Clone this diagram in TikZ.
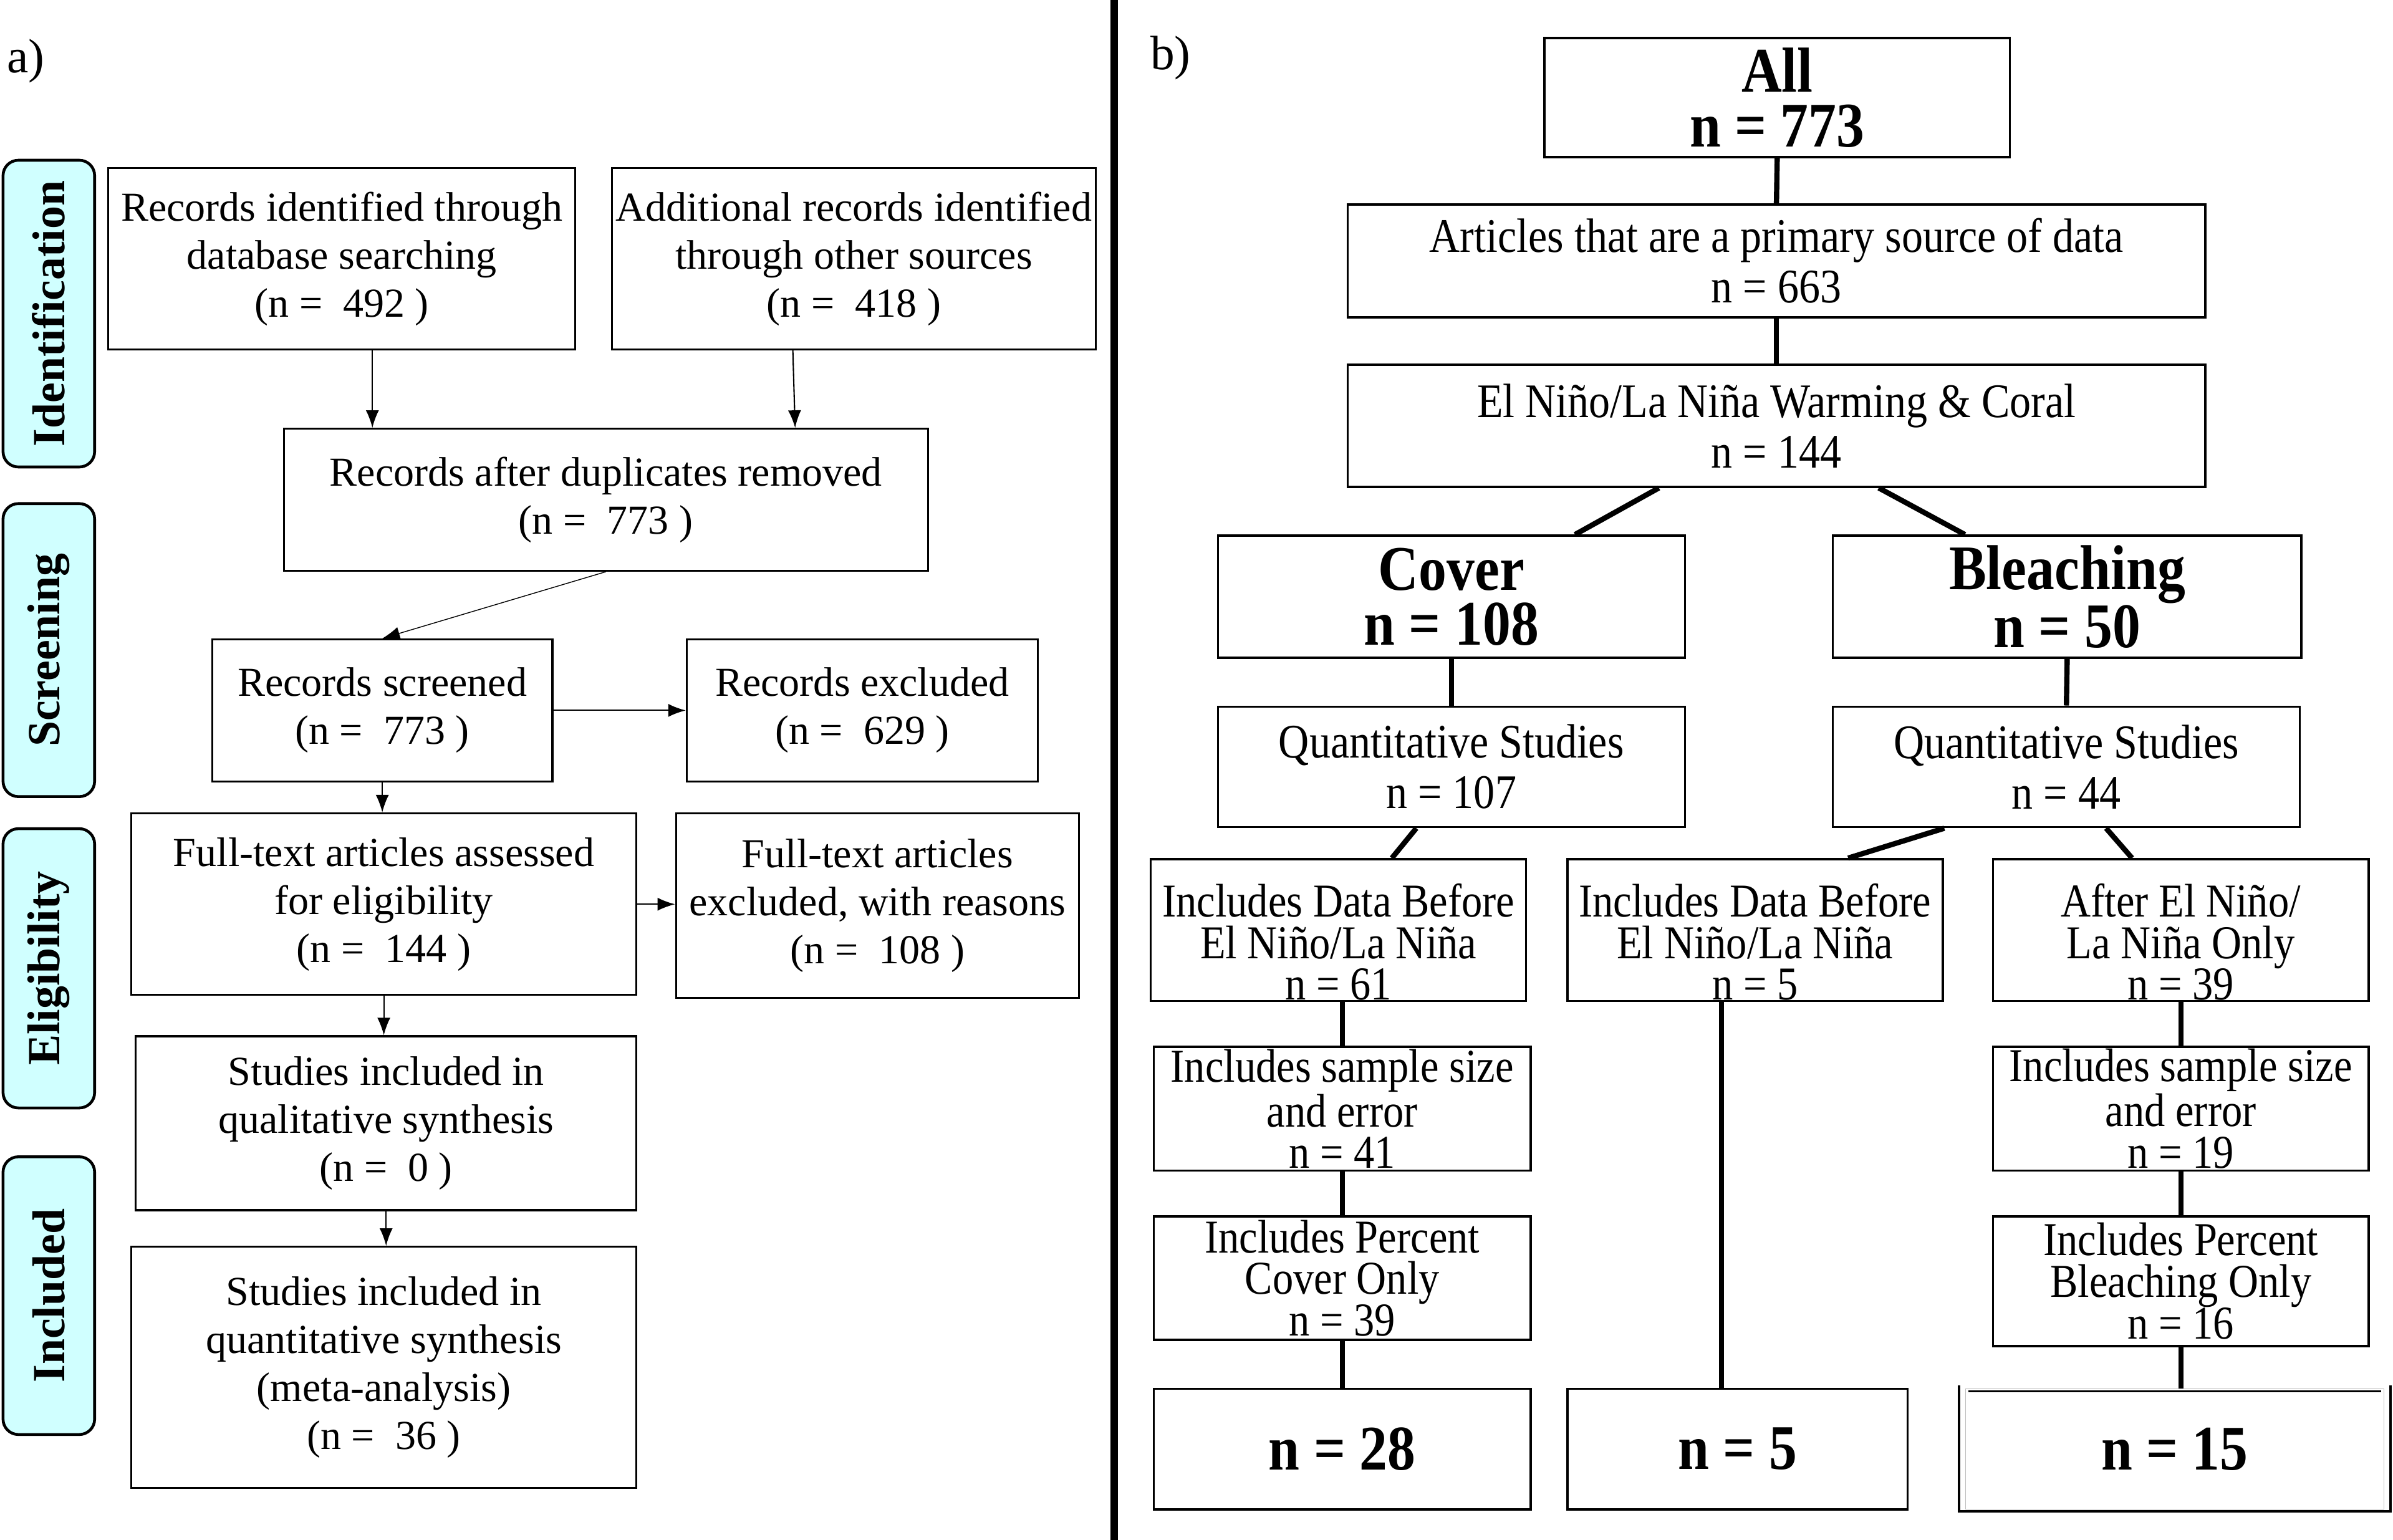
\documentclass[tikz,border=0pt]{standalone}
\usepackage{fontspec}
\setmainfont{Liberation Serif}
\newfontfamily\cond[FakeStretch=0.88]{Liberation Serif}
\usepackage{xcolor}
\usepackage{tikz}
\usetikzlibrary{arrows.meta}
\definecolor{phasecyan}{RGB}{208,255,255}
\newcommand{\px}{0.02448cm}
\newcommand{\lowstrut}{\rule{0pt}{26pt}}
\tikzset{sz/.style 2 args={minimum width=#1*\px, minimum height=#2*\px},
    box/.style={draw, line width=0.9pt, inner sep=0pt, align=center,
        font=\fontsize{18.8}{21.9}\selectfont},
    phase/.style={draw, line width=1.3pt, rounded corners=7pt, fill=phasecyan,
        rotate=90, inner sep=0pt, font=\fontsize{21}{24}\selectfont\bfseries},
    arr/.style={-{Latex[length=8pt,width=6pt]}, line width=0.6pt},
    rbox/.style={draw, line width=1pt, inner sep=0pt, align=center,
        font=\cond\fontsize{22}{23}\selectfont},
    rtight/.style={rbox, font=\cond\fontsize{21.5}{19}\selectfont},
    rbig/.style={rbox, font=\cond\fontsize{29}{25}\selectfont\bfseries},
    link/.style={line width=2.4pt},
    panel/.style={font=\fontsize{22}{24}\selectfont}}

\begin{document}
\begin{tikzpicture}[x=\px, y=-\px]
            \useasboundingbox (0,0) rectangle (1568,1009);
            \node[panel] (pa) at (17,40) {a)};
            \node[panel] (pb) at (767,38) {b)};
            \draw[line width=3.6pt] (730,0) -- (730,1009);

            \node[phase, sz={201}{60}] (ident) at (32,205.5) {Identification};
            \node[phase, sz={192}{60}] (scrn) at (32,426) {Screening};
            \node[phase, sz={183}{60}] (elig) at (32,634.5) {Eligibility};
            \node[phase, sz={182}{60}] (incl) at (32,849) {Included};

            \node[box, sz={306}{119}] (db) at (224,169.5) {Records identified through\\database searching\\(n =\ \ 492 )};
            \node[box, sz={317}{119}] (other) at (559.5,169.5) {Additional records identified\\through other sources\\(n =\ \ 418 )};
            \node[box, sz={422}{93}] (dup) at (397,327.5) {Records after duplicates removed\\(n =\ \ 773 )};
            \node[box, sz={223}{93}] (scr) at (250.5,465.5) {Records screened\\(n =\ \ 773 )};
            \node[box, sz={230}{93}] (exc) at (565,465.5) {Records excluded\\(n =\ \ 629 )};
            \node[box, sz={331}{119}] (ft) at (251.5,592.5) {Full-text articles assessed\\for eligibility\\(n =\ \ 144 )};
            \node[box, sz={264}{121}] (ftx) at (575,593.5) {Full-text articles\\excluded, with reasons\\(n =\ \ 108 )};
            \node[box, sz={328}{114}] (qual) at (253,736) {Studies included in\\qualitative synthesis\\(n =\ \ 0 )};
            \node[box, sz={331}{158}] (quant) at (251.5,896) {Studies included in\\quantitative synthesis\\(meta-analysis)\\(n =\ \ 36 )};

            \draw[arr] ([xshift=20*\px]db.south) -- ([xshift=20*\px]db.south |- dup.north);
            \draw[arr] ([xshift=-40*\px]other.south) -- ([xshift=124*\px]dup.north);
            \draw[arr, line width=0.4pt] (dup.south) -- (scr.north);
            \draw[arr] (scr.east) -- (exc.west);
            \draw[arr] (scr.south) -- (scr.south |- ft.north);
            \draw[arr] (ft.east) -- (ft.east -| ftx.west);
            \draw[arr] (ft.south) -- (ft.south |- qual.north);
            \draw[arr] (qual.south) -- (qual.south |- quant.north);

            \node[rbig, sz={305}{78}] (all) at (1164.5,64) {All\\n = 773};
            \node[rbox, sz={562}{74}] (prim) at (1164,171) {Articles that are a primary source of data\\n = 663};
            \node[rbox, sz={562}{80}] (eln) at (1164,279) {El Niño/La Niña Warming \& Coral\\n = 144};
            \node[rbig, sz={306}{80}] (cov) at (951,391) {Cover\\n = 108};
            \node[rbig, sz={307}{80}] (ble) at (1354.5,391) {Bleaching\\n = 50};
            \node[rbox, sz={306}{79}] (qc) at (951,502.5) {Quantitative Studies\\n = 107};
            \node[rbox, sz={306}{79}] (qb) at (1354,502.5) {Quantitative Studies\\n = 44};
            \node[rtight, sz={246}{93}] (c1) at (877,609.5) {\lowstrut Includes Data Before\\El Niño/La Niña\\n = 61};
            \node[rtight, sz={246}{93}] (m1) at (1150,609.5) {\lowstrut Includes Data Before\\El Niño/La Niña\\n = 5};
            \node[rtight, sz={246}{93}] (b1) at (1429,609.5) {\lowstrut After El Niño/\\La Niña Only\\n = 39};
            \node[rtight, sz={247}{81}] (c2) at (879.5,726.5) {Includes sample size\\and error\\n = 41};
            \node[rtight, sz={246}{81}] (b2) at (1429,726.5) {Includes sample size\\and error\\n = 19};
            \node[rtight, sz={247}{81}] (c3) at (879.5,837.5) {Includes Percent\\Cover Only\\n = 39};
            \node[rtight, sz={246}{85}] (b3) at (1429,839.5) {Includes Percent\\Bleaching Only\\n = 16};
            \node[rbig, sz={247}{79}] (c4) at (879.5,949.5) {n = 28};
            \node[rbig, sz={223}{79}] (m4) at (1138.5,949.5) {n = 5};
            \node[rbig, sz={274}{79}, draw=gray!50, line width=0.4pt] (b4) at (1425,949.5) {n = 15};
            \draw[line width=1pt] ([shift={(2,2)}]b4.north west) -- ([shift={(-2,2)}]b4.north east);
            \draw[line width=1pt] ([shift={(-4,-2)}]b4.north west) -- ([shift={(-4,1)}]b4.south west)
                -- ([shift={(4,1)}]b4.south east) -- ([shift={(4,-2)}]b4.north east);

            \draw[link] (all.south) -- (prim.north);
            \draw[link] (prim.south) -- (eln.north);
            \draw[link] ([xshift=-77*\px]eln.south) -- ([xshift=81*\px]cov.north);
            \draw[link] ([xshift=67*\px]eln.south) -- ([xshift=-67*\px]ble.north);
            \draw[link] (cov.south) -- (qc.north);
            \draw[link] (ble.south) -- (qb.north);
            \draw[link] ([xshift=-23*\px]qc.south) -- ([xshift=35*\px]c1.north);
            \draw[link] ([xshift=-80*\px]qb.south) -- ([xshift=61*\px]m1.north);
            \draw[link] ([xshift=26*\px]qb.south) -- ([xshift=-32*\px]b1.north);
            \draw[link] (c2.north |- c1.south) -- (c2.north);
            \draw[link] (c2.south) -- (c3.north);
            \draw[link] (c3.south) -- (c3.south |- c4.north);
            \draw[link] ([xshift=-22*\px]m1.south) -- ([xshift=-22*\px]m1.south |- m4.north);
            \draw[link] (b1.south) -- (b2.north);
            \draw[link] (b2.south) -- (b3.north);
            \draw[link] (b3.south) -- (b3.south |- b4.north);
        \end{tikzpicture}
\end{document}
